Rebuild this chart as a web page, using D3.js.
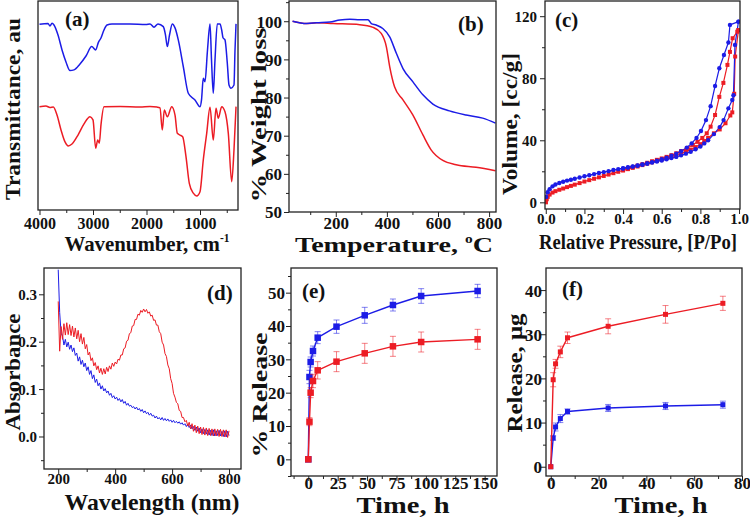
<!DOCTYPE html>
<html><head><meta charset="utf-8">
<script src="https://cdn.jsdelivr.net/npm/d3@7"></script>
<style>
body{margin:0;background:#fff}
svg{display:block}
text{font-family:"Liberation Serif","Times New Roman",serif;font-weight:bold;fill:#111}
</style>
</head><body>
<svg id="c" width="750" height="522"></svg>
<script>
// ---------- DATA ----------
// (a) FTIR: [wavenumber cm-1, transmittance au]
const ftirBlue = [[4000,88.4],[3841,88.8],[3804,87.6],[3766,88.9],[3729,88.1],[3654,83.3],[3579,76.2],[3505,70.5],[3430,66.4],[3355,66.7],[3243,69.5],[3131,73.3],[3024,77.8],[2950,76.2],[2901,79.7],[2851,81.9],[2795,85.7],[2738,88.1],[2645,88.6],[2309,88.6],[2010,88.3],[1935,88.6],[1860,87.0],[1785,88.6],[1686,87.3],[1645,83.3],[1611,77.8],[1570,83.3],[1518,88.6],[1467,86.7],[1406,81.0],[1312,68.2],[1219,55.6],[1094,52.4],[1000,49.2],[972,52.4],[939,62.7],[907,61.1],[860,76.2],[813,88.6],[785,71.4],[752,55.6],[720,71.4],[677,88.6],[626,88.6],[595,85.7],[570,82.0],[533,81.0],[490,69.9],[458,59.5],[421,58.0],[365,59.5],[346,76.2],[327,88.6]];
const ftirRed = [[4000,49.2],[3879,49.5],[3804,48.8],[3742,49.0],[3673,45.2],[3598,38.1],[3523,32.4],[3462,30.5],[3393,31.4],[3280,35.7],[3168,41.0],[3056,44.4],[3000,42.9],[2950,29.4],[2912,33.3],[2882,31.8],[2851,40.5],[2794,49.2],[2495,49.3],[2122,49.0],[1935,49.3],[1804,49.0],[1748,48.6],[1705,38.1],[1667,47.6],[1611,44.4],[1529,49.2],[1467,45.2],[1424,36.5],[1374,35.7],[1324,34.9],[1262,25.4],[1200,12.7],[1125,8.0],[1062,6.7],[1000,8.7],[939,23.8],[875,36.5],[813,48.9],[752,33.3],[701,48.4],[658,43.7],[595,49.2],[533,46.8],[471,36.5],[408,13.5],[365,28.6],[327,49.2]];
const ftirXTicks = [4000,3000,2000,1000];

// (b) TGA: [temperature C, % weight]
const tgaBlue = [[31,100.0],[86,99.4],[125,99.6],[177,99.8],[216,100.3],[255,100.5],[294,100.4],[326,100.4],[339,99.4],[358,99.0],[384,98.1],[411,95.9],[437,91.6],[463,87.6],[502,84.1],[541,80.7],[580,78.3],[645,76.5],[710,75.4],[775,74.6],[825,73.3]];
const tgaRed = [[31,100.0],[86,99.4],[125,99.6],[190,99.4],[294,99.1],[346,98.4],[378,96.8],[398,93.3],[411,88.1],[430,82.8],[463,79.4],[502,75.4],[541,70.2],[573,66.3],[619,63.5],[671,62.4],[749,61.7],[825,60.8]];
const tgaXTicks = [200,400,600,800];
const tgaYTicks = [50,60,70,80,90,100];

// (c) N2 isotherms: [P/Po, volume cc/g]
const adsBlue = [[0.002,3.5],[0.01,6.5],[0.02,8.5],[0.035,10.3],[0.05,11.5],[0.07,12.5],[0.09,13.3],[0.11,14],[0.13,14.6],[0.15,15.2],[0.175,16],[0.2,16.8],[0.225,17.5],[0.25,18.2],[0.275,18.9],[0.3,19.5],[0.325,20.1],[0.35,20.8],[0.375,21.4],[0.4,22],[0.425,22.6],[0.45,23.2],[0.475,23.8],[0.5,24.4],[0.525,25],[0.55,25.6],[0.575,26.3],[0.6,27],[0.625,27.7],[0.65,28.5],[0.675,29.3],[0.7,30.3],[0.725,31.4],[0.75,32.6],[0.775,34.2],[0.8,36],[0.82,38],[0.84,40],[0.87,44],[0.9,48.5],[0.92,53],[0.945,60.6],[0.965,66],[0.971,69],[0.979,101.5],[0.997,116.5]];
const desBlue = [[0.997,116.5],[0.953,114.4],[0.945,103],[0.922,95],[0.898,86.4],[0.876,75],[0.853,62],[0.829,53],[0.803,46],[0.78,41.5],[0.755,38],[0.73,35.3],[0.7,33],[0.675,31.3],[0.65,30],[0.625,28.8],[0.6,27.8],[0.575,26.8],[0.55,25.9],[0.525,25],[0.5,24.3],[0.475,23.6],[0.45,23],[0.425,22.4],[0.4,21.8]];
const adsRed = [[0.001,0],[0.005,2],[0.01,3.5],[0.02,5],[0.035,6.3],[0.05,7.2],[0.07,8.1],[0.09,8.9],[0.11,9.8],[0.13,10.6],[0.15,11.4],[0.175,12.4],[0.2,13.4],[0.225,14.3],[0.25,15.2],[0.275,16.1],[0.3,17],[0.325,17.9],[0.35,18.8],[0.375,19.7],[0.4,20.5],[0.425,21.4],[0.45,22.2],[0.475,23.1],[0.5,24],[0.525,24.9],[0.55,25.8],[0.575,26.7],[0.6,27.6],[0.625,28.5],[0.65,29.5],[0.675,30.5],[0.7,31.5],[0.725,32.7],[0.75,34],[0.775,35.6],[0.8,37.5],[0.82,39.5],[0.84,41.5],[0.87,44.5],[0.9,47],[0.93,51],[0.955,56],[0.965,58],[0.975,70],[0.98,94],[0.997,111]];
const desRed = [[0.997,111],[0.991,110],[0.967,105.8],[0.953,97],[0.94,88.6],[0.919,77],[0.898,68],[0.876,56.3],[0.853,48.8],[0.833,44.5],[0.81,41.5],[0.785,39],[0.76,37],[0.73,34.8],[0.7,33],[0.675,31.6],[0.65,30.4],[0.625,29.3],[0.6,28.3],[0.575,27.4],[0.55,26.5],[0.525,25.5],[0.5,24.6],[0.475,23.7],[0.45,22.8],[0.425,21.9],[0.4,21]];
const isoXTicks = [0,0.2,0.4,0.6,0.8,1.0];
const isoYTicks = [0,40,80,120];

// (d) UV-vis absorbance, wavelengths 200..800 nm every 5 nm
const uvWavelength = d3.range(200, 801, 5);
const uvBlue = [
0.352,0.262,0.218,0.212,0.193,0.205,0.189,0.199,0.184,0.193,
0.179,0.187,0.171,0.176,0.159,0.168,0.152,0.161,0.147,0.155,
0.139,0.147,0.131,0.139,0.122,0.130,0.114,0.121,0.107,0.113,
0.100,0.107,0.096,0.101,0.092,0.096,0.087,0.091,0.082,0.086,
0.079,0.083,0.076,0.080,0.073,0.078,0.070,0.074,0.066,0.070,
0.064,0.066,0.061,0.063,0.058,0.062,0.056,0.059,0.053,0.057,
0.050,0.054,0.048,0.051,0.045,0.049,0.043,0.045,0.039,0.043,
0.037,0.040,0.035,0.040,0.034,0.038,0.033,0.037,0.032,0.035,
0.030,0.034,0.029,0.032,0.028,0.031,0.026,0.029,0.024,0.027,
0.021,0.026,0.019,0.024,0.016,0.021,0.013,0.020,0.011,0.018,
0.008,0.016,0.006,0.015,0.005,0.014,0.003,0.013,0.002,0.014,
0.001,0.012,0.002,0.013,0.001,0.011,0.000,0.012,-0.001,0.011,
0.002];
const uvRed = [
0.285,0.180,0.232,0.205,0.238,0.214,0.240,0.215,0.236,0.213,
0.233,0.210,0.229,0.206,0.224,0.200,0.217,0.195,0.209,0.185,
0.194,0.172,0.178,0.160,0.166,0.149,0.156,0.141,0.149,0.134,
0.144,0.131,0.143,0.132,0.146,0.137,0.149,0.142,0.155,0.148,
0.157,0.153,0.163,0.161,0.172,0.172,0.185,0.187,0.201,0.203,
0.217,0.219,0.233,0.234,0.247,0.247,0.258,0.256,0.266,0.262,
0.269,0.263,0.268,0.260,0.263,0.254,0.256,0.245,0.246,0.235,
0.235,0.221,0.217,0.199,0.193,0.175,0.169,0.151,0.143,0.122,
0.112,0.091,0.083,0.072,0.069,0.055,0.053,0.040,0.040,0.031,
0.034,0.022,0.030,0.016,0.027,0.011,0.024,0.008,0.022,0.006,
0.020,0.004,0.019,0.003,0.018,0.002,0.017,0.002,0.016,0.001,
0.016,0.001,0.015,0.000,0.015,0.000,0.014,-0.001,0.014,-0.002,
0.012];
const uvXTicks = [200,400,600,800];
const uvYTicks = [0,0.1,0.2,0.3];

// (e) % release vs time (h)
const timeE = [0,1,2,4,8,24,48,72,96,144];
const relBlueE = [0,24.7,29.2,32.5,36.5,39.8,43.2,46.3,49.0,50.5];
const errBlueE = [0,2.0,1.5,1.5,1.8,2.0,2.4,1.8,2.2,2.0];
const relRedE = [0,11.3,20.0,23.5,26.7,29.3,31.8,33.9,35.2,36.0];
const errRedE = [0,1.2,1.5,2.0,2.6,3.0,3.0,3.0,3.0,3.0];
const eXTicks = [0,25,50,75,100,125,150];
const eYTicks = [0,10,20,30,40,50];

// (f) release (ug) vs time (h)
const timeF = [0,1,2,4,7,24,48,72];
const relRedF = [0,19.7,23.3,26.0,29.2,31.8,34.5,37.0];
const errRedF = [0,1.6,1.0,1.3,1.3,1.7,2.0,1.6];
const relBlueF = [0,6.5,9.0,10.9,12.5,13.3,13.75,14.05];
const errBlueF = [0,0.5,0.9,0.9,0.6,0.8,0.8,0.8];
const fXTicks = [0,20,40,60,80];
const fYTicks = [0,10,20,30,40];

// ---------- DRAWING ----------
const BLUE = "#1c1ce6", RED = "#ec1c24";
const svg = d3.select("#c");

function panel(o){
  const x = d3.scaleLinear().domain(o.xd).range([o.L,o.R]);
  const y = d3.scaleLinear().domain(o.yd).range([o.B,o.T]);
  const g = svg.append("g");
  const id = "clip_"+o.name;
  svg.append("clipPath").attr("id",id).append("rect")
    .attr("x",o.L).attr("y",o.T).attr("width",o.R-o.L).attr("height",o.B-o.T);
  const tickStyle = s => { s.select(".domain").remove(); s.selectAll("line").attr("stroke","#222").attr("stroke-width",1); };
  if(o.xMinor) g.append("g").attr("transform",`translate(0,${o.B})`)
      .call(d3.axisBottom(x).tickValues(o.xMinor).tickSize(3).tickFormat("")).call(tickStyle);
  const xa = g.append("g").attr("transform",`translate(0,${o.B})`)
      .call(d3.axisBottom(x).tickValues(o.xTicks).tickSize(5).tickFormat(o.xFmt||d3.format("d"))).call(tickStyle);
  xa.selectAll("text").attr("y",o.xLabY).attr("dy",0).style("font-size",o.tf+"px");
  if(o.yTicks){
    if(o.yMinor) g.append("g").attr("transform",`translate(${o.L},0)`)
      .call(d3.axisLeft(y).tickValues(o.yMinor).tickSize(3).tickFormat("")).call(tickStyle);
    const ya = g.append("g").attr("transform",`translate(${o.L},0)`)
      .call(d3.axisLeft(y).tickValues(o.yTicks).tickSize(5).tickFormat(o.yFmt||d3.format("d"))).call(tickStyle);
    ya.selectAll("text").attr("x",-o.yGap).attr("dy","0.35em").style("font-size",o.tf+"px");
  }
  const plot = g.append("g").attr("clip-path",`url(#${id})`);
  g.append("rect").attr("x",o.L).attr("y",o.T).attr("width",o.R-o.L).attr("height",o.B-o.T)
    .attr("fill","none").attr("stroke","#222").attr("stroke-width",1.3);
  return {x,y,g,plot};
}

function title(x,y,str,size,len,rot,sup){
  const t = svg.append("text").attr("text-anchor","middle").style("font-size",size+"px")
    .attr("transform",`translate(${x},${y})`+(rot?" rotate(-90)":""));
  if(sup){
    t.append("tspan").text(str);
    t.append("tspan").text(sup[0]).attr("dy",-size*0.42).style("font-size",(size*0.55)+"px");
    if(sup[1]) t.append("tspan").text(sup[1]).attr("dy",size*0.42);
  } else t.text(str);
  if(len) t.attr("textLength",len).attr("lengthAdjust","spacingAndGlyphs");
  return t;
}
function label(x,y,str,size){
  svg.append("text").attr("x",x).attr("y",y).style("font-size",size+"px").text(str);
}
function drawLine(p, data, color, w, curve){
  p.plot.append("path").datum(data).attr("fill","none").attr("stroke",color).attr("stroke-width",w)
   .attr("stroke-linejoin","round")
   .attr("d", d3.line().x(d=>p.x(d[0])).y(d=>p.y(d[1])).curve(curve||d3.curveLinear));
}

// ---- (a) FTIR
const pa = panel({name:"a",L:38,R:238,T:1,B:210,xd:[4028,290],yd:[0,99.5],
  xTicks:ftirXTicks,xMinor:[3500,2500,1500,500],xLabY:19,tf:16});
drawLine(pa, ftirBlue, BLUE, 1.5, d3.curveMonotoneX);
drawLine(pa, ftirRed, RED, 1.5, d3.curveMonotoneX);
title(20,109,"Transmittance, au",21,182,true);
title(147,251,"Wavenumber, cm",21,165,false,["-1"]);
label(65,26,"(a)",21);

// ---- (b) TGA
const pb = panel({name:"b",L:289,R:496,T:1,B:212,xd:[17,827],yd:[50,105.3],
  xTicks:tgaXTicks,xMinor:[100,300,500,700],yTicks:tgaYTicks,yMinor:[55,65,75,85,95,105],
  xLabY:17,yGap:7,tf:17});
drawLine(pb, tgaRed, RED, 1.5, d3.curveMonotoneX);
drawLine(pb, tgaBlue, BLUE, 1.5, d3.curveMonotoneX);
title(266,115,"% Weight loss",21,175,true);
title(394,252,"Temperature, ",22,198,false,["o","C"]);
label(458,31,"(b)",21);

// ---- (c) Isotherms
const pc = panel({name:"c",L:545,R:740,T:1,B:209,xd:[-0.004,1.005],yd:[-4.3,129.8],
  xTicks:isoXTicks,xMinor:[0.1,0.3,0.5,0.7,0.9],yTicks:isoYTicks,yMinor:[20,60,100],
  xFmt:d3.format(".1f"),xLabY:15,yGap:8,tf:15});
[[adsRed,RED],[desRed,RED],[adsBlue,BLUE],[desBlue,BLUE]].forEach(([d,c])=>{
  drawLine(pc, d, c, 1.2);
});
[[adsRed,RED],[desRed,RED]].forEach(([d,c])=>{
  pc.plot.selectAll(null).data(d).enter().append("rect")
    .attr("x",v=>pc.x(v[0])-2).attr("y",v=>pc.y(v[1])-2).attr("width",4).attr("height",4).attr("fill",c);
});
[[adsBlue,BLUE],[desBlue,BLUE]].forEach(([d,c])=>{
  pc.plot.selectAll(null).data(d).enter().append("circle")
    .attr("cx",v=>pc.x(v[0])).attr("cy",v=>pc.y(v[1])).attr("r",2.2).attr("fill",c);
});
title(517,124,"Volume, [cc/g]",21,142,true);
title(638,249,"Relative Pressure, [P/Po]",20,198,false);
label(555,27,"(c)",21);

// ---- (d) UV-vis
const pd = panel({name:"d",L:44,R:241,T:268,B:469,xd:[150,842],yd:[-0.0686,0.3555],
  xTicks:uvXTicks,xMinor:[300,500,700],yTicks:uvYTicks,yMinor:[-0.05,0.05,0.15,0.25],
  yFmt:d3.format(".1f"),xLabY:15,yGap:7,tf:15});
drawLine(pd, uvWavelength.map((w,i)=>[w,uvBlue[i]]), BLUE, 1);
drawLine(pd, uvWavelength.map((w,i)=>[w,uvRed[i]]), RED, 1);
title(20,372,"Absorbance",21,117,true);
title(152,510,"Wavelength (nm)",23,175,false);
label(207,300,"(d)",21);

// ---- (e) % Release
function errSeries(p, t, v, e, color, ms, cap){
  const d = t.map((ti,i)=>[ti,v[i],e[i]]);
  const eg = p.plot.append("g").attr("stroke",color).attr("stroke-opacity",0.55).attr("stroke-width",1);
  d.filter(q=>q[2]>0).forEach(q=>{
    const cx = p.x(q[0]), y1 = p.y(q[1]-q[2]), y2 = p.y(q[1]+q[2]);
    eg.append("line").attr("x1",cx).attr("x2",cx).attr("y1",y1).attr("y2",y2);
    eg.append("line").attr("x1",cx-cap).attr("x2",cx+cap).attr("y1",y1).attr("y2",y1);
    eg.append("line").attr("x1",cx-cap).attr("x2",cx+cap).attr("y1",y2).attr("y2",y2);
  });
  drawLine(p, d, color, 1.4);
  p.plot.selectAll(null).data(d).enter().append("rect")
    .attr("x",q=>p.x(q[0])-ms/2).attr("y",q=>p.y(q[1])-ms/2).attr("width",ms).attr("height",ms).attr("fill",color);
}
const pe = panel({name:"e",L:291,R:497,T:268,B:476,xd:[-14.7,160.5],yd:[-5,57.4],
  xTicks:eXTicks,xMinor:[-12.5,12.5,37.5,62.5,87.5,112.5,137.5],yTicks:eYTicks,yMinor:[-5,5,15,25,35,45,55],
  xLabY:13,yGap:6,tf:17});
errSeries(pe, timeE, relBlueE, errBlueE, BLUE, 6.5, 3);
errSeries(pe, timeE, relRedE, errRedE, RED, 6.5, 3);
title(267,395,"% Release",22,125,true);
title(403,513,"Time, h",23,93,false);
label(302,298,"(e)",21);

// ---- (f) Release ug
const pf = panel({name:"f",L:546,R:742,T:268,B:476,xd:[-2,80],yd:[-2.1,45],
  xTicks:fXTicks,xMinor:[10,30,50,70],yTicks:fYTicks,yMinor:[5,15,25,35],
  xLabY:13,yGap:4,tf:17});
errSeries(pf, timeF, relBlueF, errBlueF, BLUE, 5, 3);
errSeries(pf, timeF, relRedF, errRedF, RED, 5, 3);
title(522,373,"Release, μg",22,119,true);
title(661,513,"Time, h",23,93,false);
label(562,296,"(f)",21);
</script>
</body></html>
